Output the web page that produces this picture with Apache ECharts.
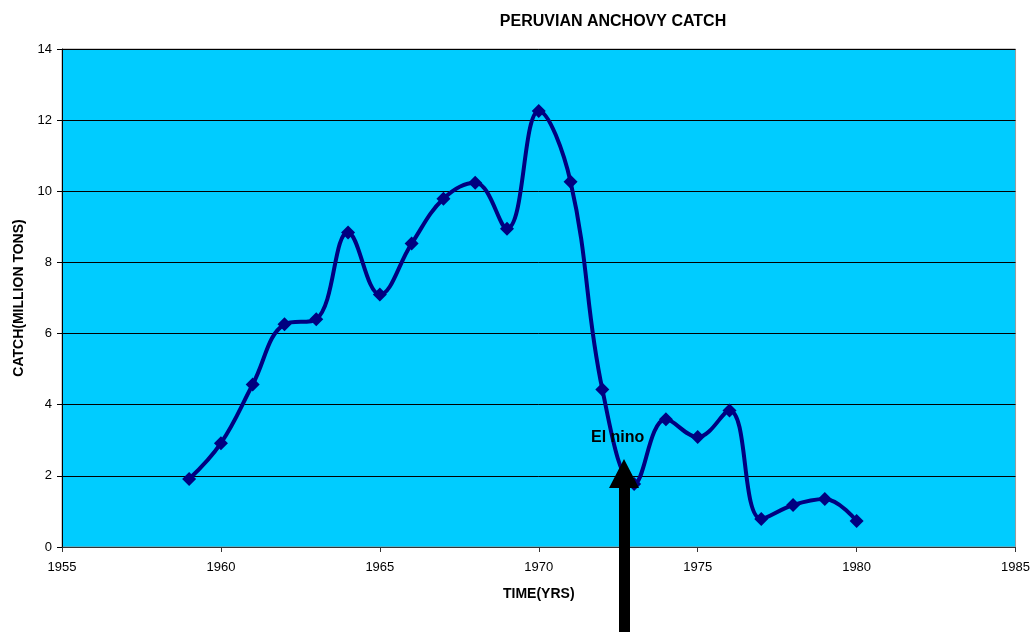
<!DOCTYPE html>
<html>
<head>
<meta charset="utf-8">
<script src="https://cdn.jsdelivr.net/npm/echarts@6/dist/echarts.min.js"></script>
<style>
  html, body { margin: 0; padding: 0; background: #fff; }
  #chart { width: 1033px; height: 632px; }
</style>
</head>
<body>
<div id="chart"></div>
<script>
// catch per year, million tons
const years = [1959, 1960, 1961, 1962, 1963, 1964, 1965, 1966, 1967, 1968, 1969,
               1970, 1971, 1972, 1973, 1974, 1975, 1976, 1977, 1978, 1979, 1980];
const catchTons = [1.91, 2.92, 4.57, 6.26, 6.40, 8.84, 7.10, 8.53, 9.79, 10.24, 8.95,
                   12.26, 10.27, 4.43, 1.77, 3.59, 3.09, 3.84, 0.79, 1.18, 1.35, 0.73];

const seriesData = years.map((y, i) => [y, catchTons[i]]);
const font = "Liberation Sans, Arial, sans-serif";

const chart = echarts.init(document.getElementById("chart"));

const option = {
    animation: false,
    backgroundColor: "#fff",
    title: {
        text: "PERUVIAN ANCHOVY CATCH",
        left: 608,
        textAlign: "center",
        top: 9,
        textStyle: { fontFamily: font, fontSize: 16, fontWeight: "bold", color: "#000" },
    },
    grid: {
        left: 62,
        right: 16,
        top: 49,
        bottom: 85,
        show: true,
        backgroundColor: "#00CCFF",
        borderColor: "#999",
        borderWidth: 1,
    },
    xAxis: {
        type: "value",
        min: 1955,
        max: 1985,
        interval: 5,
        name: "TIME(YRS)",
        nameLocation: "middle",
        nameGap: 40,
        nameTextStyle: { fontFamily: font, fontSize: 14, fontWeight: "bold", color: "#000" },
        axisLine: { show: true, lineStyle: { color: "#333", width: 1 } },
        axisTick: { show: true, length: 5, lineStyle: { color: "#333" } },
        axisLabel: {
            fontFamily: font, fontSize: 13, color: "#000", margin: 14,
            formatter: (v) => String(v),
        },
        splitLine: { show: false },
    },
    yAxis: {
        type: "value",
        min: 0,
        max: 14,
        interval: 2,
        name: "CATCH(MILLION TONS)",
        nameLocation: "middle",
        nameGap: 36,
        nameTextStyle: { fontFamily: font, fontSize: 14, fontWeight: "bold", color: "#000" },
        axisLine: { show: true, lineStyle: { color: "#000", width: 1 } },
        axisTick: { show: true, length: 5, lineStyle: { color: "#000" } },
        axisLabel: { fontFamily: font, fontSize: 13, color: "#000", margin: 10 },
        splitLine: { show: true, lineStyle: { color: "#000", width: 1 } },
    },
    series: [
        {
            name: "Catch",
            type: "line",
            data: seriesData,
            smooth: 0.4,
            symbol: "diamond",
            symbolSize: 14,
            lineStyle: { color: "#000080", width: 4 },
            itemStyle: { color: "#000080" },
            z: 3,
        },
    ],
    graphic: [
        {
            type: "text",
            left: 591,
            top: 430,
            z: 10,
            style: { text: "El nino", fontFamily: font, fontSize: 16, fontWeight: "bold", fill: "#000" },
        },
        {
            // arrow pointing at the 1972-73 drop
            type: "polygon",
            z: 20,
            shape: {
                points: [[624, 459], [639, 488], [630, 488], [630, 632],
                         [619, 632], [619, 488], [609, 488]],
            },
            style: { fill: "#000" },
        },
    ],
};

chart.setOption(option);
</script>
</body>
</html>
